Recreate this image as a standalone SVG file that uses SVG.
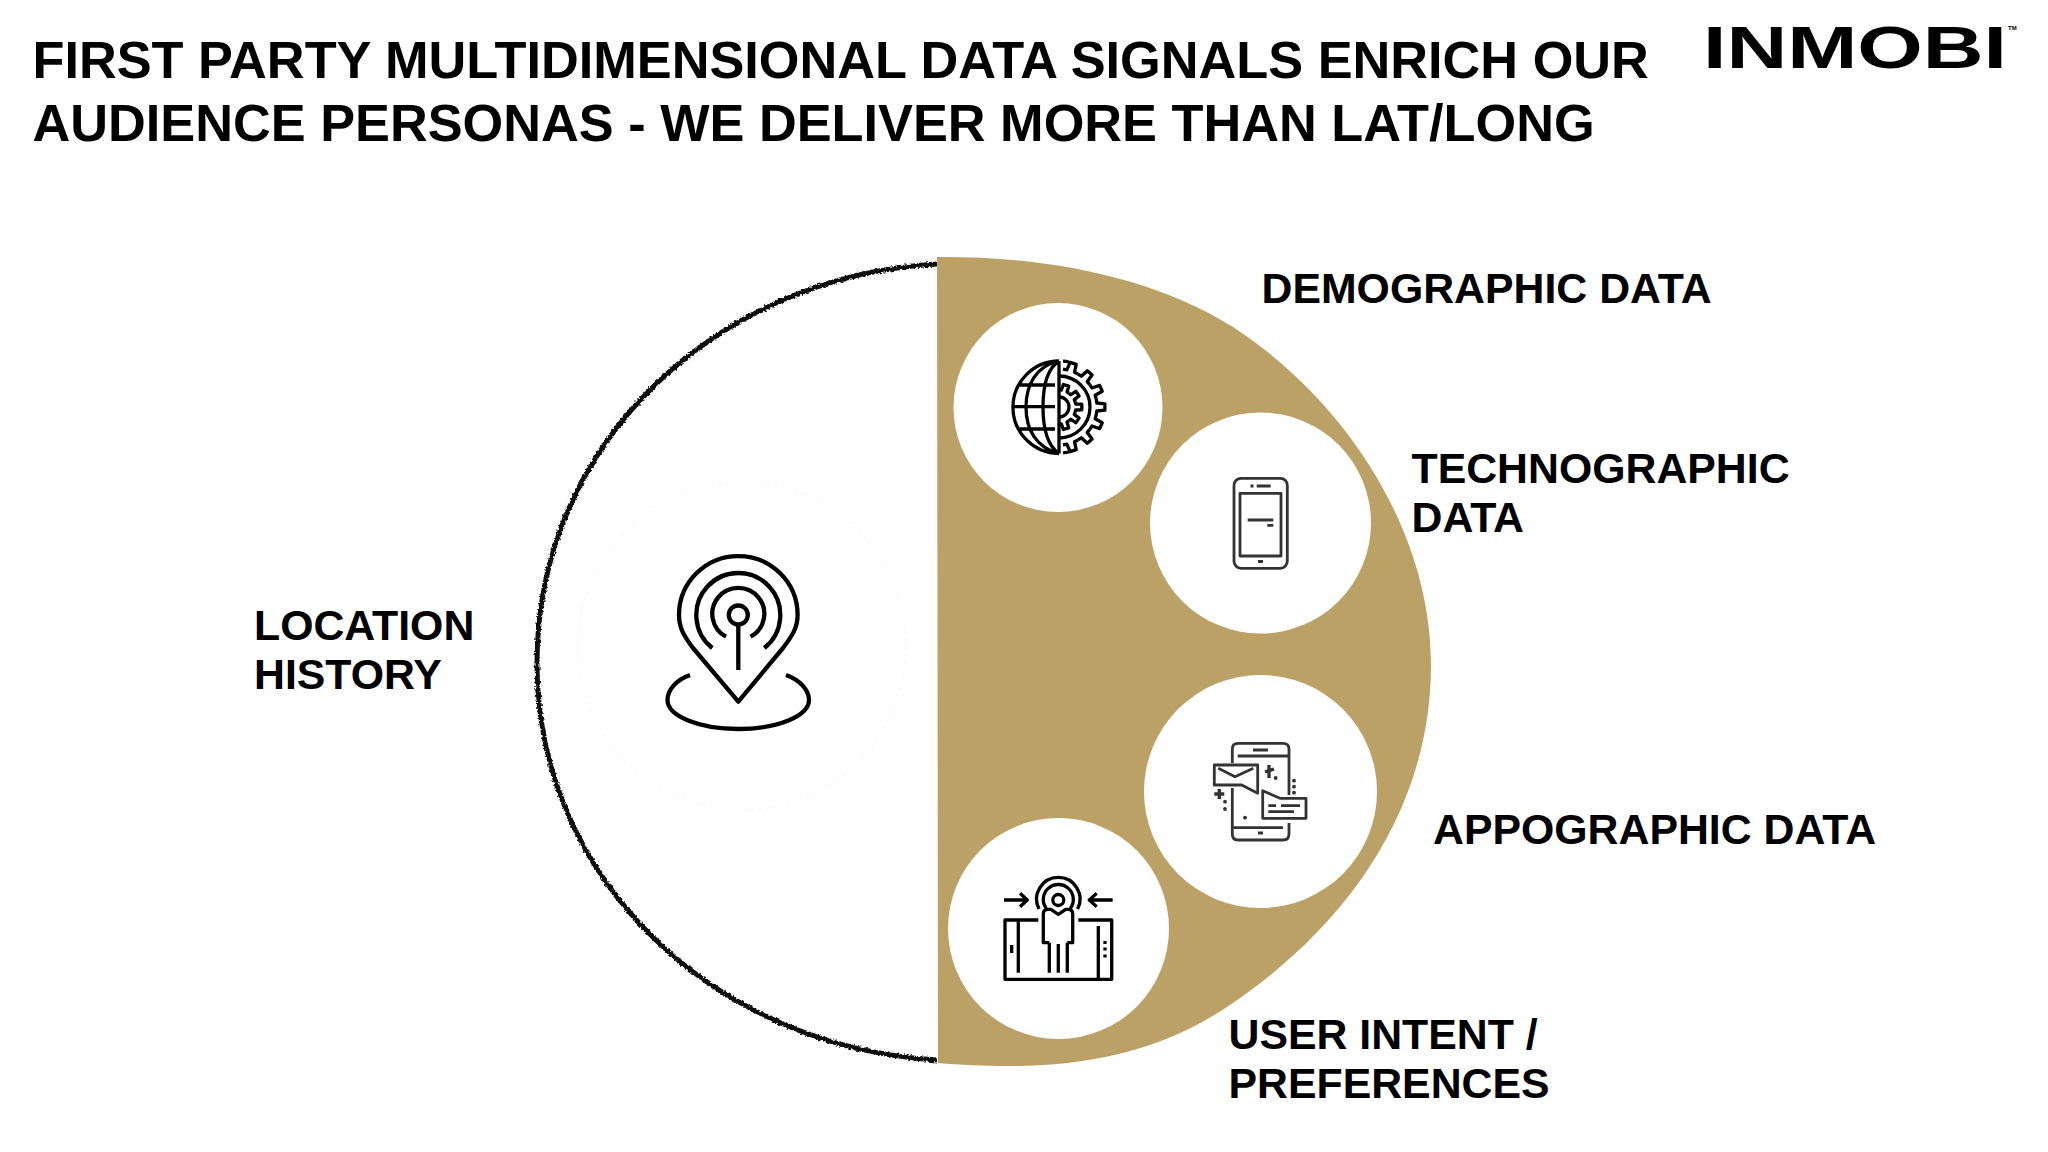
<svg xmlns="http://www.w3.org/2000/svg" xmlns:xlink="http://www.w3.org/1999/xlink" width="2048" height="1152" viewBox="0 0 2048 1152">
<style>
.t{font-family:"Liberation Sans",Arial,sans-serif;font-weight:700;fill:#000}
.h{font-size:52.300px}
.l{font-size:42.800px}
.k{fill:none;stroke:#000;stroke-width:3.300;stroke-linecap:butt;stroke-linejoin:round}
.p{stroke-width:4.300}
.g{fill:none;stroke:#333;stroke-width:2.800;stroke-linejoin:round}
.d{fill:#333}
.w{fill:#fff}
</style>
<defs>
<path id="tooth" d="M37.2 -7.9L37.8 -4L45.9 -3.2V3.2L37.8 4L37.2 7.9"/>
<path id="tooth2" d="M16.2 -5.3L16.7 -3L22.8 -2.8V2.8L16.7 3L16.2 5.3"/>
<filter id="rough" x="-5%" y="-5%" width="110%" height="110%">
<feTurbulence type="fractalNoise" baseFrequency="0.45" numOctaves="2" seed="3"/>
<feDisplacementMap in="SourceGraphic" scale="4" xChannelSelector="R" yChannelSelector="G"/>
</filter>
</defs>
<rect width="2048" height="1152" fill="#fff"/>
<g id="title">
<text class="t h" x="32.500" y="77.500">FIRST PARTY MULTIDIMENSIONAL DATA SIGNALS ENRICH OUR</text>
<text class="t h" x="32.500" y="140.500">AUDIENCE PERSONAS - WE DELIVER MORE THAN LAT/LONG</text>
</g>
<g id="logo">
<text class="t" x="1703" y="68" font-size="60" textLength="304" lengthAdjust="spacingAndGlyphs">INMOBI</text>
<text class="t" x="2008" y="30" font-size="6">TM</text>
</g>
<g id="location-half">
<path d="M937 264C720 276 537 440 537 663C537 880 715 1047 937 1060" fill="none" stroke="#111" stroke-width="5" filter="url(#rough)"/>
<circle cx="742" cy="646" r="164" fill="none" stroke="#fafafa" stroke-width="2" stroke-dasharray="3 4"/>
</g>
<g id="data-half">
<path d="M937 257C1040 256 1150 275 1233 327C1345 400 1431 530 1431 665C1431 815 1340 930 1233 1003C1165 1050 1090 1066 1010 1066C985 1066 960 1065 938 1063Z" fill="#bca167"/>
</g>
<g id="location">
<path class="k p" d="M738.300 701.700L693 648C684 636 679 628 679 615A59.300 59 0 0 1 797.600 615C797.600 628 792 636 783 648Z"/>
<path class="k p" d="M712.300 648A42 42 0 1 1 764.300 648M726 636.700A26 26 0 1 1 750.600 636.700"/>
<circle class="k p" cx="738.300" cy="615" r="9.500"/>
<path class="k p" d="M738.300 625V670M690 675C676 680 667.500 690 667.500 700C667.500 716 699 729 738.300 729S809 716 809 700C809 690 800 680 786 675"/>
</g>
<g id="demographic">
<circle class="w" cx="1058" cy="407.500" r="104.500"/>
<g class="k">
<path d="M1059 361V453.500M1059 361A46 46.200 0 0 0 1059 453.500M1059 361C1036 366 1026 385 1026 407C1026 429 1036 448 1059 453.500M1059 361C1048 368 1043 385 1043 407C1043 429 1048 446 1059 453.500M1018 385H1055M1012.500 406.700H1055M1018 429H1055"/>
<path d="M1059 376A31 31 0 0 1 1059 438M1059 397A10 10 0 0 1 1059 417"/>
<g transform="translate(1059 407)">
<use xlink:href="#tooth"/><use xlink:href="#tooth" transform="rotate(24)"/><use xlink:href="#tooth" transform="rotate(-24)"/><use xlink:href="#tooth" transform="rotate(48)"/><use xlink:href="#tooth" transform="rotate(-48)"/><use xlink:href="#tooth" transform="rotate(72)"/><use xlink:href="#tooth" transform="rotate(-72)"/>
<path d="M4 -45.800A46 46 0 0 1 10 -45"/><path d="M4 45.800A46 46 0 0 0 10 45"/>
<use xlink:href="#tooth2"/><use xlink:href="#tooth2" transform="rotate(36)"/><use xlink:href="#tooth2" transform="rotate(-36)"/><use xlink:href="#tooth2" transform="rotate(72)"/><use xlink:href="#tooth2" transform="rotate(-72)"/>
</g>
</g>
</g>
<g id="technographic">
<circle class="w" cx="1260.500" cy="523" r="110.500"/>
<rect class="g" x="1234" y="478.300" width="53.300" height="90" rx="7"/>
<rect class="g" x="1240" y="493.300" width="41" height="62.700"/>
<path class="g" d="M1250.500 486H1253.500M1256.700 486H1270.700M1258 561.500H1263M1247.700 520H1273.300M1267.300 525.300H1273.300"/>
</g>
<g id="appographic">
<circle class="w" cx="1260.500" cy="791.500" r="116.500"/>
<path class="g" d="M1232.300 763V749Q1232.300 743.300 1238 743.300H1283Q1289 743.300 1289 749V795M1289 823V834Q1289 840 1283 840H1238Q1232.300 840 1232.300 834V788M1237.700 756H1289M1253 750H1268M1233 827.700H1283M1258 833H1263"/>
<path class="g" d="M1214.300 765H1257.700V793.300L1241.700 785H1214.300ZM1218.300 768.300L1235 776.700L1253.300 768.300"/>
<path class="g" d="M1262.700 790.700L1280 798.300H1306V818.300H1262.700ZM1268.300 805.700H1276M1281 805.700H1300M1268.300 811.700H1294"/>
<path class="g" style="stroke-width:3.400" d="M1214.300 794H1224.300M1219.300 789V799M1269 765V778M1265 772L1274 769"/>
<g class="d">
<circle cx="1225" cy="801.700" r="1.900"/><circle cx="1225" cy="809" r="1.900"/><circle cx="1294" cy="780.700" r="1.900"/><circle cx="1294" cy="786.700" r="1.900"/><circle cx="1294" cy="792.700" r="1.900"/><circle cx="1245" cy="817.700" r="1.900"/><circle cx="1275.700" cy="778" r="1.900"/>
</g>
</g>
<g id="user-intent">
<circle class="w" cx="1058.500" cy="928.500" r="110.500"/>
<g class="k">
<path d="M1004 900H1027M1020 893.300L1027.300 900L1020 906.700M1112.700 900H1089.500M1096.700 893.300L1089.300 900L1096.700 906.700"/>
<circle cx="1058.300" cy="900" r="5.500"/>
<path d="M1039 909A21.700 21.700 0 1 1 1077.600 909M1046.300 908.500A15 15 0 1 1 1070.300 908.500"/>
<path d="M1038.300 920H1005V979.300H1111.700V920H1078.300"/>
<path d="M1049.300 942.700H1043.300V914Q1043.300 909.300 1048 909.300H1051L1058.300 914.500L1065.600 909.300H1068Q1072.700 909.300 1072.700 914V942.700H1067.300M1049.300 942.700V972.700M1058.300 944V972.700M1067.300 942.700V972.700"/>
<path d="M1018.300 920V972.700M1098.300 926V979M1011.700 945V953"/>
<path d="M1105 941V944M1105 947.500V950.500M1105 954.500V957.500"/>
</g>
</g>
<g id="labels">
<text class="t l" x="1261.500" y="302.500">DEMOGRAPHIC DATA</text>
<text class="t l" x="1411.500" y="483">TECHNOGRAPHIC</text>
<text class="t l" x="1411.500" y="532">DATA</text>
<text class="t l" x="1433" y="844">APPOGRAPHIC DATA</text>
<text class="t l" x="1228.500" y="1049">USER INTENT /</text>
<text class="t l" x="1228.500" y="1098">PREFERENCES</text>
<text class="t l" x="254" y="639.500">LOCATION</text>
<text class="t l" x="254" y="688.500">HISTORY</text>
</g>
<g id="connectors"/>
</svg>
